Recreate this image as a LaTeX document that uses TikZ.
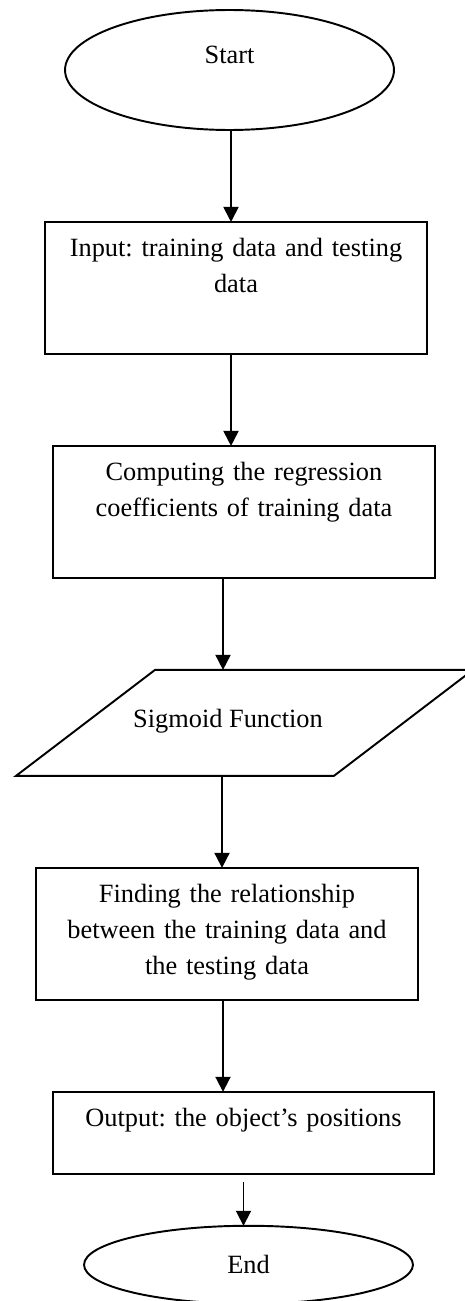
\documentclass[tikz,border=0pt]{standalone}
\usepackage{fontspec}
\setmainfont{Liberation Serif}
\usepackage{tikz}
\usetikzlibrary{arrows.meta,positioning,shapes.geometric}
\frenchspacing
\tikzset{
    terminal/.style={
        ellipse,
        draw,
        line width=1.1pt,
        inner sep=0pt,
        outer sep=0pt,
        minimum width=6.58cm
    },
    bloco/.style={
        rectangle,
        draw,
        line width=1.1pt,
        inner sep=0pt,
        outer sep=0pt,
        align=center,
        text width=7.64cm,
        text height=0.7cm,
        text depth=1.94cm
    },
    entrada/.style={draw, line width=1.1pt, line join=miter},
    fluxo/.style={-{Triangle[length=0.3cm, width=0.3cm]}, line width=1.1pt}
}

\begin{document}
\begin{tikzpicture}[
        x=0.02cm, y=-0.02cm,
        every node/.style={font=\fontsize{15}{20.5}\selectfont}
    ]
        \useasboundingbox (0,0) rectangle (465,1301);

        \node[terminal, minimum height=2.4cm, text height=0.3cm, text depth=0.58cm] (inicio) at (229.5,70) {Start};
        \node[bloco, below=1.84cm of inicio, xshift=0.13cm] (dados) {Input: training data and testing\\data};
        \node[bloco, below=1.84cm of dados, xshift=0.16cm] (coeficientes) {Computing the regression\\coefficients of training data};

        % paralelogramo da funcao sigmoide
        \coordinate[below=1.84cm of coeficientes] (topoSig);
        \coordinate (baseSig) at ([yshift=-2.12cm]topoSig);
        \draw[entrada] ([xshift=-1.78cm]topoSig) -- ([xshift=4.58cm]topoSig)
            -- ([xshift=1.8cm]baseSig) -- ([xshift=-4.56cm]baseSig) -- cycle;
        \node[anchor=base] (sigmoide) at ([shift={(-0.32cm,-1.16cm)}]topoSig) {Sigmoid Function};

        \node[bloco, below=1.84cm of baseSig, xshift=-0.34cm] (relacao) {Finding the relationship\\between the training data and\\the testing data};
        \node[bloco, below=1.84cm of relacao, xshift=0.33cm, text depth=0.94cm] (saida) {Output: the object’s positions};
        \node[terminal, below=1.04cm of saida, xshift=0.1cm, minimum height=1.56cm] (fim) {End};

        \draw[fluxo] ([xshift=0.03cm]inicio.south) -- ([xshift=0.03cm]inicio.south |- dados.north);
        \draw[fluxo] ([xshift=-0.1cm]dados.south) -- ([xshift=-0.1cm]dados.south |- coeficientes.north);
        \draw[fluxo] ([xshift=-0.42cm]coeficientes.south) -- ([xshift=-0.42cm]topoSig);
        \draw[fluxo] ([xshift=-0.1cm]relacao.north |- baseSig) -- ([xshift=-0.1cm]relacao.north);
        \draw[fluxo] ([xshift=-0.08cm]relacao.south) -- ([xshift=-0.08cm]relacao.south |- saida.north);
        \draw[fluxo] ([yshift=-0.16cm]saida.south) -- (saida.south |- fim.north);
    \end{tikzpicture}
\end{document}
